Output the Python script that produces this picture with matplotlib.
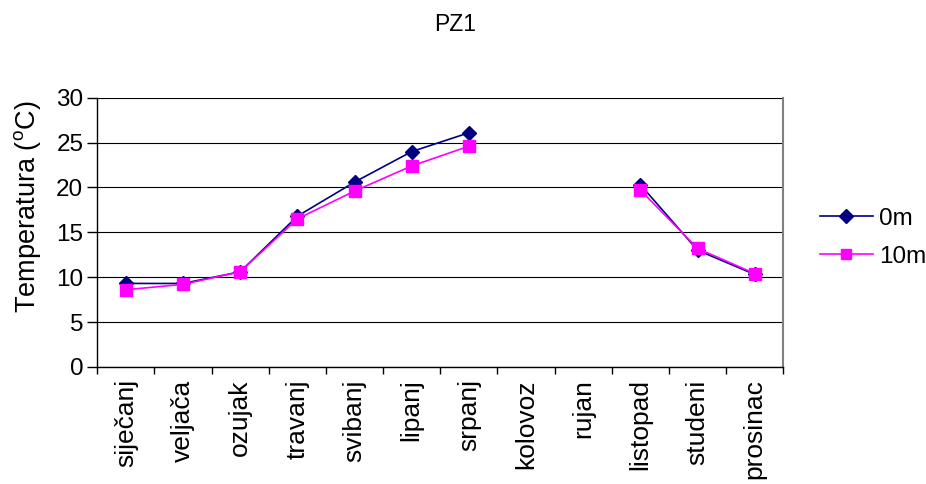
import numpy as np
import matplotlib.pyplot as plt
from matplotlib.ticker import FixedLocator, NullFormatter

months = ["siječanj", "veljača", "ozujak", "travanj", "svibanj", "lipanj",
          "srpanj", "kolovoz", "rujan", "listopad", "studeni", "prosinac"]
temp_0m = [9.3, 9.3, 10.6, 16.8, 20.6, 24.0, 26.1, np.nan, np.nan, 20.3, 13.0, 10.3]
temp_10m = [8.6, 9.2, 10.6, 16.5, 19.6, 22.4, 24.6, np.nan, np.nan, 19.7, 13.2, 10.4]
y_ticks = [0, 5, 10, 15, 20, 25, 30]

plt.rcParams['font.family'] = ['Liberation Sans', 'DejaVu Sans']
plt.rcParams['mathtext.fontset'] = 'custom'
plt.rcParams['mathtext.rm'] = 'Liberation Sans'
plt.rcParams['mathtext.it'] = 'Liberation Sans'

fig = plt.figure(figsize=(9.26, 4.84), dpi=100)
ax = fig.add_axes([0.105, 0.242, 0.741, 0.556])

x = np.arange(len(months))
ax.plot(x, temp_0m, color="#000080", marker="D", markersize=7, linewidth=1.2, label="0m")
ax.plot(x, temp_10m, color="#FF00FF", marker="s", markersize=8, linewidth=1.2, label="10m")

ax.set_xlim(-0.5, len(months) - 0.5)
ax.set_ylim(0, 30)
ax.set_yticks(y_ticks)
ax.yaxis.grid(True, color="#000000", linewidth=0.8)
ax.set_axisbelow(True)

# category labels centred, tick marks between categories
ax.set_xticks(x)
ax.set_xticklabels(months, rotation=90, fontsize=19)
ax.tick_params(axis="x", length=0, pad=9)
ax.xaxis.set_minor_locator(FixedLocator(np.arange(-0.5, len(months), 1.0)))
ax.xaxis.set_minor_formatter(NullFormatter())
ax.tick_params(axis="x", which="minor", length=5, width=1, direction="out")
ax.tick_params(axis="y", labelsize=17.5, length=7, width=1, direction="out", pad=3)

ax.spines["right"].set_color("#808080")
ax.spines["right"].set_linewidth(1.5)
ax.spines["top"].set_visible(False)
ax.spines["left"].set_linewidth(1)
ax.spines["bottom"].set_linewidth(1)

ax.set_ylabel("Temperatura ($\\mathrm{^{o}}$C)", fontsize=19.5, va="center")
ax.yaxis.set_label_coords(-0.102, 0.593)
fig.text(0.492, 0.95, "PZ1", ha="center", va="center", fontsize=16.5)

ax.legend(loc="center left", bbox_to_anchor=(1.021, 0.48), frameon=False,
          fontsize=17.5, handlelength=2.2, handletextpad=0.25, labelspacing=0.65,
          markerscale=0.95)

fig.savefig("out.png", dpi=100)
